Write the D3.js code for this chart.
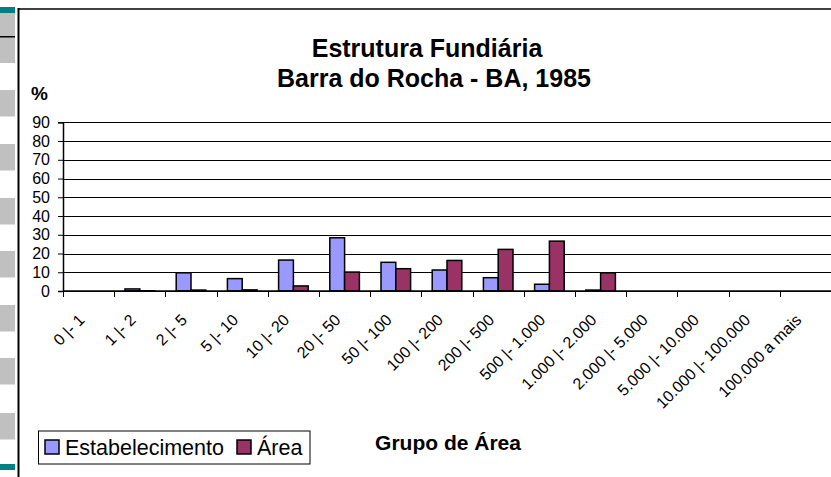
<!DOCTYPE html>
<html>
<head>
<meta charset="utf-8">
<script src="https://cdn.jsdelivr.net/npm/d3@7"></script>
<style>
	body { margin: 0; background: #ffffff; }
	svg { display: block; font-family: "Liberation Sans", Arial, sans-serif; }
</style>
</head>
<body>
<div id="chart"></div>
<script>

// categories (grupo de area) and series values in %
var categories = ["0 |- 1", "1 |- 2", "2 |- 5", "5 |- 10", "10 |- 20", "20 |- 50",
	"50 |- 100", "100 |- 200", "200 |- 500", "500 |- 1.000", "1.000 |- 2.000",
	"2.000 |- 5.000", "5.000 |- 10.000", "10.000 |- 100.000", "100.000 a mais"];

var estabelecimento = [0, 1.1, 9.7, 6.6, 16.5, 28.4, 15.3, 11.2, 7.1, 3.6, 0.5, 0, 0, 0, 0];
var area = [0, 0.1, 0.5, 0.6, 2.7, 10.1, 11.9, 16.3, 22.2, 26.6, 9.7, 0, 0, 0, 0];

var seriesNames = ["Estabelecimento", "Área"];
var seriesColors = ["#9999ff", "#993366"];
var yTicks = [0, 10, 20, 30, 40, 50, 60, 70, 80, 90];

var width = 831,
	height = 477;

var font = "'Liberation Sans', Arial, sans-serif";

// plot area
var plot = {left: 63, right: 831, top: 122.3, bottom: 291};

var svg = d3.select("#chart").append("svg")
	.attr("width", width)
	.attr("height", height);

// left strip of the slide behind the chart
var strip = svg.append("g");

strip.append("rect")
	.attr("x", 0).attr("y", 7)
	.attr("width", 15).attr("height", 6)
	.style("fill", "#008080");

strip.append("rect")
	.attr("x", 0).attr("y", 13)
	.attr("width", 15).attr("height", 50)
	.style("fill", "#c0c0c0");

strip.append("rect")
	.attr("x", 0).attr("y", 36)
	.attr("width", 15).attr("height", 1.5)
	.style("fill", "#000000");

var blocks = [90, 144, 198, 251, 305, 358, 413];
strip.selectAll(".block")
	.data(blocks)
	.enter()
	.append("rect")
	.attr("class", "block")
	.attr("x", 0)
	.attr("y", function(d){ return d; })
	.attr("width", 15)
	.attr("height", 26.5)
	.style("fill", "#c0c0c0");

strip.append("rect")
	.attr("x", 0).attr("y", 464)
	.attr("width", 15).attr("height", 6)
	.style("fill", "#008080");

// chart border
svg.append("line")
	.attr("x1", 18.5).attr("x2", 18.5)
	.attr("y1", 8).attr("y2", height)
	.style("stroke", "#000").style("stroke-width", 2);

svg.append("line")
	.attr("x1", 18).attr("x2", width)
	.attr("y1", 9).attr("y2", 9)
	.style("stroke", "#000").style("stroke-width", 1.5);

// scales
var x = d3.scaleBand()
	.domain(categories)
	.range([plot.left, plot.right]);

var xs = d3.scaleBand()
	.domain(seriesNames)
	.range([10.8, 40.4]);

var y = d3.scaleLinear()
	.domain([0, 90])
	.range([plot.bottom, plot.top]);

// gridlines
svg.append("g")
	.selectAll("line")
	.data(yTicks)
	.enter()
	.append("line")
	.attr("x1", plot.left)
	.attr("x2", plot.right)
	.attr("y1", function(d){ return Math.round(y(d)) + 0.5; })
	.attr("y2", function(d){ return Math.round(y(d)) + 0.5; })
	.style("stroke", "#000")
	.style("stroke-width", 1);

// y axis
var yAxis = svg.append("g")
	.attr("transform", "translate(" + plot.left + ",0)")
	.call(d3.axisLeft(y).tickValues(yTicks).tickSize(5).tickPadding(8));

yAxis.attr("font-family", null);
yAxis.select(".domain").style("stroke", "#000").style("stroke-width", 1.5);
yAxis.selectAll(".tick line").style("stroke", "#000");
yAxis.selectAll(".tick text")
	.style("font-size", "16px")
	.style("fill", "#000")
	.style("font-family", font);

// bars
var groups = svg.append("g")
	.selectAll("g")
	.data(categories)
	.enter()
	.append("g")
	.attr("transform", function(d){ return "translate(" + x(d) + ",0)"; });

groups.selectAll("rect")
	.data(function(d, i){

		return [{s: seriesNames[0], v: estabelecimento[i], c: seriesColors[0]},
			{s: seriesNames[1], v: area[i], c: seriesColors[1]}];
	})
	.enter()
	.append("rect")
	.attr("x", function(d){ return xs(d.s); })
	.attr("y", function(d){ return y(d.v); })
	.attr("width", xs.bandwidth())
	.attr("height", function(d){ return y(0) - y(d.v); })
	.style("fill", function(d){ return d.c; })
	.style("stroke", "#000")
	.style("stroke-width", 1.5);

// x axis
var xAxis = svg.append("g")
	.attr("transform", "translate(0," + plot.bottom + ")");

xAxis.append("line")
	.attr("x1", plot.left).attr("x2", plot.right)
	.attr("y1", 0).attr("y2", 0)
	.style("stroke", "#000").style("stroke-width", 1.5);

xAxis.selectAll(".xtick")
	.data(categories)
	.enter()
	.append("line")
	.attr("class", "xtick")
	.attr("x1", function(d){ return Math.round(x(d)) + 0.5; })
	.attr("x2", function(d){ return Math.round(x(d)) + 0.5; })
	.attr("y1", 0).attr("y2", 6)
	.style("stroke", "#000");

xAxis.selectAll(".xlabel")
	.data(categories)
	.enter()
	.append("text")
	.attr("class", "xlabel")
	.attr("transform", function(d){

		return "translate(" + (x(d) + x.bandwidth() / 2 - 3) + ",30) rotate(-45)";
	})
	.attr("text-anchor", "end")
	.style("font-size", "16px")
	.style("font-family", font)
	.text(function(d){ return d; });

// "%" label
svg.append("text")
	.attr("x", 31)
	.attr("y", 100)
	.style("font-size", "19px")
	.style("font-weight", "bold")
	.style("font-family", font)
	.text("%");

// title
var title = svg.append("text")
	.attr("text-anchor", "middle")
	.style("font-size", "25px")
	.style("font-weight", "bold")
	.style("font-family", font);

title.append("tspan").attr("x", 427).attr("y", 57).text("Estrutura Fundiária");
title.append("tspan").attr("x", 434).attr("y", 87).text("Barra do Rocha - BA, 1985");

// x axis title
svg.append("text")
	.attr("x", 448)
	.attr("y", 450)
	.attr("text-anchor", "middle")
	.style("font-size", "21px")
	.style("font-weight", "bold")
	.style("font-family", font)
	.text("Grupo de Área");

// legend
var legend = svg.append("g");

legend.append("rect")
	.attr("x", 38.5).attr("y", 431)
	.attr("width", 271.5).attr("height", 33)
	.style("fill", "#fff")
	.style("stroke", "#000")
	.style("stroke-width", 1);

var legendX = [45, 237];

legend.selectAll(".lkey")
	.data(seriesNames)
	.enter()
	.append("rect")
	.attr("class", "lkey")
	.attr("x", function(d, i){ return legendX[i]; })
	.attr("y", 440)
	.attr("width", 14)
	.attr("height", 14)
	.style("fill", function(d, i){ return seriesColors[i]; })
	.style("stroke", "#000")
	.style("stroke-width", 1.5);

legend.selectAll(".ltext")
	.data(seriesNames)
	.enter()
	.append("text")
	.attr("class", "ltext")
	.attr("x", function(d, i){ return legendX[i] + 20; })
	.attr("y", 455)
	.style("font-size", "21.5px")
	.style("font-family", font)
	.text(function(d){ return d; });

</script>
</body>
</html>
